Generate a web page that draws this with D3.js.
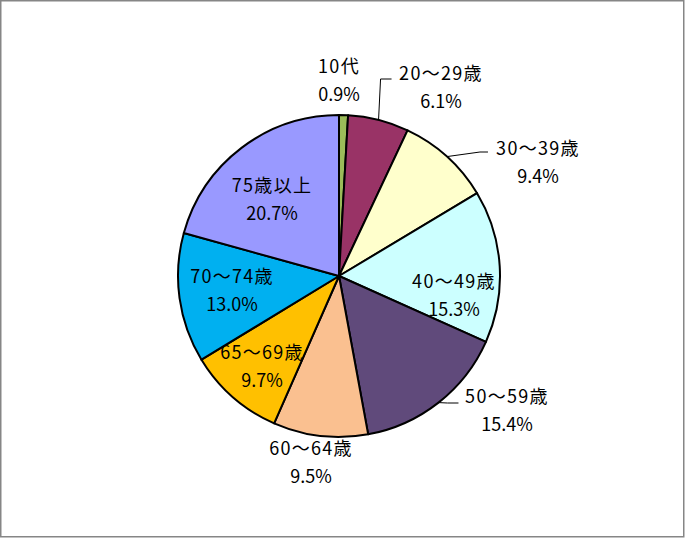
<!DOCTYPE html>
<html><head><meta charset="utf-8">
<script src="https://cdn.jsdelivr.net/npm/d3@7"></script>
<style>body{margin:0;background:#fff}</style>
</head><body>
<svg id="c" width="685" height="538"></svg>
<script>
const categories = ["10代","20～29歳","30～39歳","40～49歳","50～59歳","60～64歳","65～69歳","70～74歳","75歳以上"];
const values = [0.9, 6.1, 9.4, 15.3, 15.4, 9.5, 9.7, 13.0, 20.7];
const colors = ["#9BBB59","#993366","#FFFFCC","#CCFFFF","#604A7B","#FAC090","#FFC000","#00B0F0","#9999FF"];

// layout: label block centres relative to pie centre, and leader flags
const labelOffsets = [[0,-201],[102,-194],[199,-119],[115,14],[168,129],[-28,181],[-77,85],[-107,9],[-67,-82]];
const hasLeader = [false,true,true,false,true,false,false,false,false];

const W=685,H=538,cx=339,cy=276,R=161;
const svg=d3.select("#c");
svg.append("rect").attr("x",0.75).attr("y",0.75).attr("width",683).attr("height",536)
  .attr("fill","#fff").attr("stroke","#868686").attr("stroke-width",1.5);

const pie=d3.pie().sort(null).value(d=>d)(values);
const arc=d3.arc().innerRadius(0).outerRadius(R);
const g=svg.append("g").attr("transform",`translate(${cx},${cy})`);
g.selectAll("path").data(pie).join("path")
  .attr("d",arc).attr("fill",(d,i)=>colors[i])
  .attr("stroke","#000").attr("stroke-width",2).attr("stroke-linejoin","round");

const fs=18;
pie.forEach((d,i)=>{
  const [dx,dy]=labelOffsets[i];
  const t=g.append("text").attr("text-anchor","middle")
    .attr("font-family","'Noto Sans CJK JP', sans-serif").attr("font-size",fs)
    .attr("fill","#000");
  t.append("tspan").attr("x",dx).attr("y",dy-2).attr("letter-spacing","1.3px").text(categories[i]);
  t.append("tspan").attr("x",dx).attr("y",dy+26).text(values[i].toFixed(1)+"%");
  if(hasLeader[i]){
    const a=(d.startAngle+d.endAngle)/2;
    const sx=R*Math.sin(a), sy=-R*Math.cos(a);
    let pts;
    if(i===1) pts=[[sx,sy],[sx+2,dy-3],[sx+13,dy-3]];
    else if(i===2) pts=[[sx,sy],[sx+33,dy-5],[sx+41,dy-5]];
    else pts=[[sx,sy],[sx+9,dy-2],[sx+20,dy-2]];
    g.append("path").attr("d",d3.line()(pts)).attr("fill","none")
      .attr("stroke","#000").attr("stroke-width",1);
  }
});
</script>
</body></html>
